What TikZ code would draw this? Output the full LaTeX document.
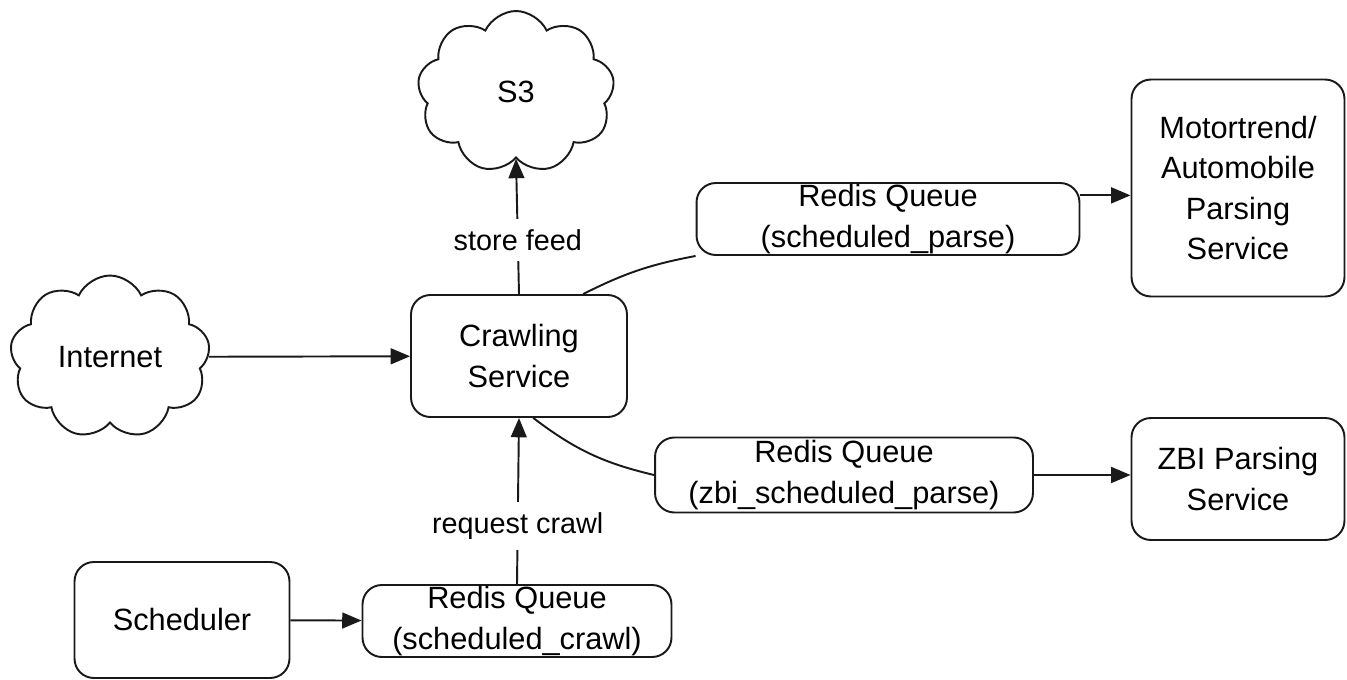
\documentclass[tikz,border=0pt]{standalone}
\usepackage{fontspec}
\setmainfont{Liberation Sans}
\usetikzlibrary{shapes.symbols,arrows.meta}
\begin{document}
\begin{tikzpicture}[
		x=0.02cm, y=-0.02cm,
		line width=1.1pt,
		every node/.style={font=\fontsize{17.5}{23}\selectfont},
		HopDich/.style={draw=MauVien, rounded corners=11pt, align=center, inner sep=0pt},
		DamMay/.style={draw=MauVien, cloud, cloud puffs=9, cloud puff arc=130, aspect=1.2, inner sep=0pt},
		MuiTen/.style={draw=MauVien, -{Triangle[length=11pt,width=9pt]}},
		NhanCanh/.style={fill=white, inner sep=6pt, font=\fontsize{16.4}{20}\selectfont}
	]
		\definecolor{MauVien}{RGB}{25,25,25}
		\useasboundingbox (0,0) rectangle (1347,680);
		\node[DamMay, minimum width=3.94cm, minimum height=3.24cm] (s3) at (516,92) {S3};
		\node[DamMay, minimum width=4.0cm, minimum height=3.26cm] (internet) at (110,357) {Internet};
		\node[HopDich, minimum width=4.32cm, minimum height=2.44cm] (crawl) at (519,356)
			{Crawling\\Service};
		\node[HopDich, minimum width=7.66cm, minimum height=1.44cm] (qparse) at (888,219)
			{Redis Queue\\(scheduled\_parse)};
		\node[HopDich, minimum width=4.26cm, minimum height=4.34cm] (moto) at (1238,188)
			{Motortrend/\\Automobile\\Parsing\\Service};
		\node[HopDich, minimum width=7.56cm, minimum height=1.5cm] (qzbi) at (844,475)
			{Redis Queue\\(zbi\_scheduled\_parse)};
		\node[HopDich, minimum width=4.26cm, minimum height=2.44cm] (zbi) at (1238,479)
			{ZBI Parsing\\Service};
		\node[HopDich, minimum width=4.3cm, minimum height=2.32cm] (sched) at (182,620)
			{Scheduler};
		\node[HopDich, minimum width=6.18cm, minimum height=1.44cm] (qcrawl) at (517,621)
			{Redis Queue\\(scheduled\_crawl)};
		\draw[MuiTen] (internet) -- (crawl);
		\draw[MuiTen] (crawl.north) -- node[NhanCanh, pos=0.4] {store feed} (s3.south);
		\draw[MauVien] (crawl.44) to[bend left=8] (qparse.south west);
		\draw[MuiTen] (qparse.7) -- (qparse.7 -| moto.west);
		\draw[MauVien] (crawl.283) to[bend right=12] (qzbi.west);
		\draw[MuiTen] (qzbi.east) -- (qzbi.east -| zbi.west);
		\draw[MuiTen] (sched) -- (qcrawl);
		\draw[MuiTen] (qcrawl.north) -- node[NhanCanh, pos=0.35] {request crawl} (crawl.south);
	\end{tikzpicture}
\end{document}
